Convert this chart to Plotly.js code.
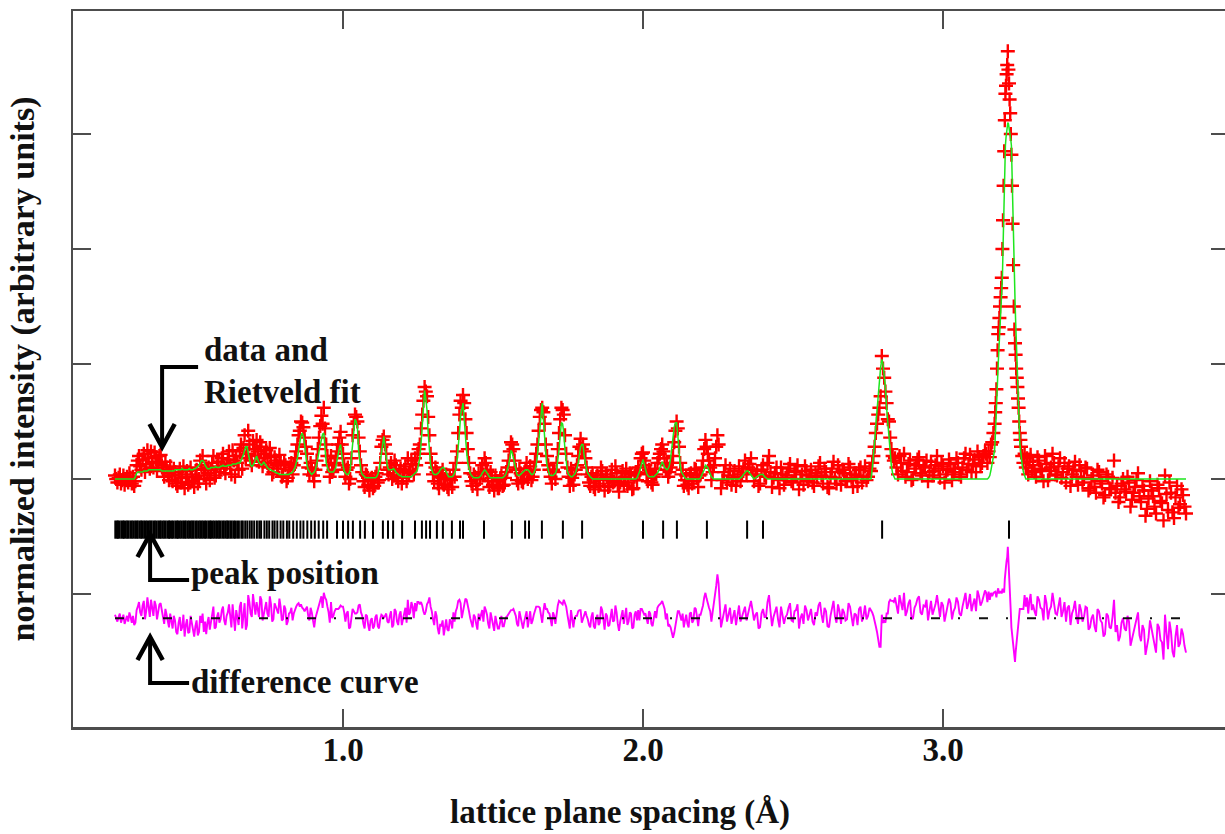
<!DOCTYPE html>
<html>
<head>
<meta charset="utf-8">
<script src="https://cdn.plot.ly/plotly-3.0.1.min.js"></script>
<style>
  html, body { margin: 0; padding: 0; overflow: hidden; background: #ffffff; }
  #chart { width: 1232px; height: 834px; }
</style>
</head>
<body>
<div id="chart"></div>
<script>
// Lattice plane spacing of each measured point (Å)
const dSpacing = [
  0.240,0.244,0.248,0.252,0.256,0.260,0.264,0.268,0.272,0.276,0.280,0.284,0.288,0.292,0.296,0.300,0.304,0.308,0.312,0.316,
  0.320,0.324,0.328,0.332,0.336,0.340,0.344,0.348,0.352,0.356,0.360,0.364,0.368,0.372,0.376,0.380,0.384,0.388,0.392,0.396,
  0.400,0.404,0.408,0.412,0.416,0.420,0.424,0.428,0.432,0.436,0.440,0.444,0.448,0.452,0.456,0.460,0.464,0.468,0.472,0.476,
  0.480,0.484,0.488,0.492,0.496,0.500,0.504,0.508,0.512,0.516,0.520,0.524,0.528,0.532,0.536,0.540,0.544,0.548,0.552,0.556,
  0.560,0.564,0.568,0.572,0.576,0.580,0.584,0.588,0.592,0.596,0.600,0.604,0.608,0.612,0.616,0.620,0.624,0.628,0.632,0.636,
  0.640,0.644,0.648,0.652,0.656,0.660,0.664,0.668,0.672,0.676,0.680,0.684,0.688,0.692,0.696,0.700,0.704,0.708,0.712,0.716,
  0.720,0.724,0.728,0.732,0.736,0.740,0.744,0.748,0.752,0.756,0.760,0.764,0.768,0.772,0.776,0.780,0.784,0.788,0.792,0.796,
  0.800,0.804,0.808,0.812,0.816,0.820,0.824,0.828,0.832,0.836,0.840,0.844,0.848,0.852,0.856,0.860,0.864,0.868,0.872,0.876,
  0.880,0.884,0.888,0.892,0.896,0.900,0.904,0.908,0.912,0.916,0.920,0.924,0.928,0.932,0.936,0.940,0.944,0.948,0.952,0.956,
  0.960,0.964,0.968,0.972,0.976,0.980,0.984,0.988,0.992,0.996,1.000,1.004,1.008,1.012,1.016,1.020,1.024,1.028,1.032,1.036,
  1.040,1.044,1.048,1.052,1.056,1.060,1.064,1.068,1.072,1.076,1.080,1.084,1.088,1.092,1.096,1.100,1.104,1.108,1.112,1.116,
  1.120,1.124,1.128,1.132,1.136,1.140,1.144,1.148,1.152,1.156,1.160,1.164,1.168,1.172,1.176,1.180,1.184,1.188,1.192,1.196,
  1.200,1.204,1.208,1.212,1.216,1.220,1.224,1.228,1.232,1.236,1.240,1.244,1.248,1.252,1.256,1.260,1.264,1.268,1.272,1.276,
  1.280,1.284,1.288,1.292,1.296,1.300,1.304,1.308,1.312,1.316,1.320,1.324,1.328,1.332,1.336,1.340,1.344,1.348,1.352,1.356,
  1.360,1.364,1.368,1.372,1.376,1.380,1.384,1.388,1.392,1.396,1.400,1.404,1.408,1.412,1.416,1.420,1.424,1.428,1.432,1.436,
  1.440,1.444,1.448,1.452,1.456,1.460,1.464,1.468,1.472,1.476,1.480,1.484,1.488,1.492,1.496,1.500,1.504,1.508,1.512,1.516,
  1.520,1.524,1.528,1.532,1.536,1.540,1.544,1.548,1.552,1.556,1.560,1.564,1.568,1.572,1.576,1.580,1.584,1.588,1.592,1.596,
  1.600,1.604,1.608,1.612,1.616,1.620,1.624,1.628,1.632,1.636,1.640,1.644,1.648,1.652,1.656,1.660,1.664,1.668,1.672,1.676,
  1.680,1.684,1.688,1.692,1.696,1.700,1.704,1.708,1.712,1.716,1.720,1.724,1.728,1.732,1.736,1.740,1.744,1.748,1.752,1.756,
  1.760,1.764,1.768,1.772,1.776,1.780,1.784,1.788,1.792,1.796,1.800,1.804,1.808,1.812,1.816,1.820,1.824,1.828,1.832,1.836,
  1.840,1.844,1.848,1.852,1.856,1.860,1.864,1.868,1.872,1.876,1.880,1.884,1.888,1.892,1.896,1.900,1.904,1.908,1.912,1.916,
  1.920,1.924,1.928,1.932,1.936,1.940,1.944,1.948,1.952,1.956,1.960,1.964,1.968,1.972,1.976,1.980,1.984,1.988,1.992,1.996,
  2.000,2.004,2.008,2.012,2.016,2.020,2.024,2.028,2.032,2.036,2.040,2.044,2.048,2.052,2.056,2.060,2.064,2.068,2.072,2.076,
  2.080,2.084,2.088,2.092,2.096,2.100,2.104,2.108,2.112,2.116,2.120,2.124,2.128,2.132,2.136,2.140,2.144,2.148,2.152,2.156,
  2.160,2.164,2.168,2.172,2.176,2.180,2.184,2.188,2.192,2.196,2.200,2.204,2.208,2.212,2.216,2.220,2.224,2.228,2.232,2.236,
  2.240,2.244,2.248,2.252,
  2.260,2.265,2.270,2.275,2.280,2.285,2.290,2.295,2.300,2.305,2.310,2.315,2.320,2.325,2.330,2.335,2.340,2.345,2.350,2.355,
  2.360,2.365,2.370,2.375,2.380,2.385,2.390,2.395,2.400,2.405,2.410,2.415,2.420,2.425,2.430,2.435,2.440,2.445,2.450,2.455,
  2.460,2.465,2.470,2.475,2.480,2.485,2.490,2.495,2.500,2.505,2.510,2.515,2.520,2.525,2.530,2.535,2.540,2.545,2.550,2.555,
  2.560,2.565,2.570,2.575,2.580,2.585,2.590,2.595,2.600,2.605,2.610,2.615,2.620,2.625,2.630,2.635,2.640,2.645,2.650,2.655,
  2.660,2.665,2.670,2.675,2.680,2.685,2.690,2.695,2.700,2.705,2.710,2.715,2.720,2.725,2.730,2.735,2.740,2.745,2.750,2.755,
  2.760,
  2.764,2.768,2.772,2.776,2.780,2.784,2.788,2.792,2.796,2.800,2.804,2.808,2.812,2.816,2.820,2.824,2.828,2.832,2.836,
  2.840,2.845,2.850,2.855,2.860,2.865,2.870,2.875,2.880,2.885,2.890,2.895,2.900,2.905,2.910,2.915,2.920,2.925,2.930,2.935,
  2.940,2.945,2.950,2.955,2.960,2.965,2.970,2.975,2.980,2.985,2.990,2.995,3.000,3.005,3.010,3.015,3.020,3.025,3.030,3.035,
  3.040,3.045,3.050,3.055,3.060,3.065,3.070,3.075,3.080,3.085,3.090,3.095,3.100,3.105,3.110,3.115,3.120,3.125,3.130,3.135,
  3.140,
  3.144,3.148,3.152,3.156,3.160,3.164,3.168,3.172,
  3.174,3.176,3.178,3.180,3.182,3.184,3.186,3.188,3.190,3.192,3.194,3.196,3.198,3.200,3.202,3.204,3.206,3.208,3.210,3.212,3.214,3.216,
  3.218,3.220,3.222,3.224,3.226,3.228,3.230,3.232,3.234,3.236,3.238,3.240,3.242,3.244,3.246,3.248,3.250,3.252,3.254,3.256,3.258,3.260,
  3.264,3.268,3.272,3.276,3.280,3.284,3.288,3.292,3.296,
  3.300,3.305,3.310,3.315,3.320,3.325,3.330,3.335,3.340,3.345,3.350,3.355,3.360,3.365,3.370,3.375,3.380,3.385,3.390,3.395,
  3.400,3.405,3.410,3.415,3.420,3.425,3.430,3.435,3.440,3.445,3.450,3.455,3.460,3.465,3.470,3.475,3.480,3.485,3.490,3.495,
  3.500,3.505,3.510,3.515,3.520,3.525,3.530,3.535,3.540,3.545,3.550,3.555,3.560,3.565,3.570,3.575,3.580,3.585,3.590,3.595,
  3.600,3.605,3.610,3.615,3.620,3.625,3.630,3.635,3.640,3.645,3.650,3.655,3.660,3.665,3.670,3.675,3.680,3.685,3.690,3.695,
  3.700,3.705,3.710,3.715,3.720,3.725,3.730,3.735,3.740,3.745,3.750,3.755,3.760,3.765,3.770,3.775,3.780,3.785,3.790,3.795,
  3.800,3.805,3.810
];

// Observed intensity at each point (background subtracted, arbitrary units)
const obsIntensity = [
  3,0,-3,1,4,-4,-1,3,-5,-1,2,-3,5,1,-4,2,-6,-2,12,16,
  20,11,8,17,22,6,13,25,18,9,24,15,10,23,19,7,14,20,21,12,
  8,2,15,10,5,-1,11,3,-2,9,6,-4,-6,4,9,-3,1,11,-8,2,
  7,-5,-3,10,4,-2,-7,2,8,-4,0,16,12,20,3,9,-4,5,10,-1,
  8,14,20,1,3,11,15,6,10,18,22,9,5,13,17,24,12,4,25,16,
  2,20,14,8,24,30,9,27,38,18,22,42,30,16,12,33,26,20,34,24,
  15,32,28,11,18,22,25,14,10,27,20,4,6,19,16,12,9,21,14,2,
  3,15,12,-2,1,8,10,14,4,12,18,24,30,38,42,50,49,45,36,28,
  22,10,4,14,9,3,-2,8,16,26,36,46,55,48,62,44,30,20,12,2,
  20,6,8,14,18,24,30,36,41,30,22,12,2,8,10,-4,0,18,38,48,
  56,54,50,36,24,12,6,-2,-7,4,3,-5,-10,-1,1,-8,-6,2,5,-3,
  -1,14,28,34,37,30,22,8,4,10,14,0,3,16,12,2,-2,6,9,-4,
  1,8,11,-2,18,5,7,16,13,4,18,12,22,26,30,44,56,68,80,76,
  72,54,38,22,14,4,-2,10,6,-4,-8,3,2,8,-5,0,4,-7,-9,1,
  -1,-7,8,2,14,24,40,56,68,62,73,66,52,40,26,14,5,-2,-6,4,
  2,-4,-9,5,0,6,12,4,18,14,8,-2,-7,6,1,-5,-10,3,-2,-8,
  -8,0,3,-6,-5,1,6,10,16,24,32,30,26,16,8,-1,-4,9,5,-2,
  -3,4,9,14,0,6,11,-1,2,8,15,22,30,42,54,60,62,58,48,30,
  20,12,8,2,-4,8,6,0,14,26,40,52,62,60,56,38,22,10,2,-6,
  9,1,-5,4,8,12,20,28,35,26,30,24,18,10,4,-3,-6,2,5,-7,
  -9,0,3,-6,-4,10,7,-1,-10,4,2,-7,-6,1,8,-3,-2,11,5,-5,
  -11,-3,1,7,-5,2,9,-6,-3,5,4,-9,-8,3,6,-1,10,4,18,22,
  23,16,12,5,-2,8,6,-3,-5,2,9,4,14,18,22,26,30,24,18,8,
  12,2,6,10,14,20,32,42,50,44,28,14,4,8,-6,-1,3,-5,-8,4,
  5,-4,-2,9,8,1,-7,3,4,10,16,26,34,28,22,16,10,-1,6,12,
  18,28,38,30,
  -8,-1,6,12,-3,3,9,-5,1,7,-6,2,11,-2,4,9,16,5,10,13,
  18,8,-2,4,7,-6,-4,8,12,3,2,14,20,6,-7,1,5,10,-1,-8,
  10,4,-5,1,3,9,13,-2,-3,6,7,12,-9,0,4,-5,11,7,-2,3,
  8,-3,-6,5,2,11,14,3,-4,9,6,-7,-8,2,9,15,1,-4,12,6,
  -5,8,5,-2,-1,13,10,1,-7,4,3,-6,8,10,-3,2,11,-1,2,9,
  7,
  14,20,28,40,48,56,62,72,107,96,88,76,66,52,50,36,26,20,16,
  18,10,4,20,14,7,22,2,6,13,16,-1,0,9,12,17,19,5,3,11,
  10,16,-2,6,15,3,7,12,20,9,1,14,11,-3,4,8,17,13,-1,6,
  9,18,14,4,2,10,18,22,8,13,21,6,12,17,6,24,19,11,14,20,
  24,
  22,14,24,19,30,32,40,48,
  58,66,78,96,112,126,132,140,150,158,166,175,200,225,255,285,312,335,342,352,360,372,
  356,344,330,318,300,282,255,222,186,150,130,118,108,96,88,80,70,62,50,40,34,28,
  20,14,22,10,18,4,15,21,7,
  12,6,2,19,16,9,8,-2,20,13,-1,7,10,22,14,4,3,11,18,1,
  6,14,-3,9,11,-6,4,8,15,2,-5,12,7,-3,1,10,9,-10,-8,0,
  3,-7,-12,8,6,-2,-4,-16,-14,4,2,-8,-9,1,16,-12,-6,-20,-16,-4,
  0,-9,-11,2,-3,-24,-18,-12,-7,-1,5,-15,-20,-6,-10,-32,-26,-17,-2,-10,
  -15,-24,-30,-5,-8,-19,-21,-36,3,-13,-27,-3,-12,-29,-34,-16,-6,-25,-22,-9,
  -14,-24,-30
];

// Rietveld-calculated intensity at the same points
const calcIntensity = [
  0,0,0,0,0,0,0,0,0,0,0,0,0,0,0,0,0,2,5,6,
  6,6,6,6,7,7,7,7,8,8,8,8,8,8,8,8,8,8,8,7,
  7,7,7,7,7,7,7,7,7,7,8,8,8,8,8,8,9,8,8,8,
  8,8,9,8,8,8,9,9,10,11,12,14,16,16,15,12,10,9,9,9,
  10,10,10,10,11,10,10,10,11,11,12,11,11,11,12,12,12,12,13,13,
  13,13,14,14,14,16,18,21,25,28,28,22,16,12,11,12,14,17,20,17,
  14,13,12,13,15,13,11,10,9,8,8,7,7,6,6,5,5,4,4,4,
  4,4,4,4,4,4,5,5,6,8,10,14,18,25,32,38,40,37,30,20,
  12,8,6,5,4,5,6,8,12,18,24,30,36,39,40,26,14,10,7,6,
  6,6,6,8,10,16,22,27,30,20,12,7,5,4,4,5,8,18,30,42,
  52,50,45,25,12,7,4,3,2,1,1,1,1,1,1,1,1,1,2,4,
  8,15,25,32,37,28,18,11,8,8,8,8,9,8,6,5,4,3,3,2,
  2,2,2,2,2,2,2,2,3,4,5,6,8,12,18,30,45,62,77,70,
  60,40,20,12,8,5,4,4,4,5,6,8,9,10,10,8,5,3,2,2,
  2,2,3,5,8,15,25,40,55,62,66,52,35,24,14,8,5,3,2,1,
  1,1,1,1,2,3,5,7,8,7,5,3,2,1,1,1,1,1,1,1,
  1,1,1,1,2,3,5,8,12,18,25,23,18,11,6,4,3,3,4,5,
  6,7,8,8,8,7,5,4,4,5,8,12,20,32,45,58,66,52,35,22,
  12,7,4,3,3,3,4,5,8,15,25,38,49,48,40,25,12,7,4,3,
  2,2,3,4,6,10,14,21,28,30,30,20,12,8,5,3,2,1,0,0,
  0,0,0,0,0,0,0,0,0,0,0,0,0,0,0,0,0,0,0,0,
  0,0,0,0,0,0,0,0,0,0,0,0,0,0,0,1,3,6,10,14,
  17,13,8,5,3,2,2,2,2,2,3,4,5,7,10,13,15,13,10,9,
  8,9,12,18,28,37,45,49,49,38,22,12,6,4,2,1,0,0,0,0,
  0,0,0,0,0,0,0,0,1,3,5,8,12,11,10,7,4,2,1,0,
  0,0,0,0,
  0,0,0,0,0,0,0,0,0,0,0,0,0,1,2,4,6,7,7,5,
  3,1,0,1,2,3,4,4,4,2,1,0,0,0,0,0,0,0,0,0,
  0,0,0,0,0,0,0,0,0,0,0,0,0,0,0,0,0,0,0,0,
  0,0,0,0,0,0,0,0,0,0,0,0,0,0,0,0,0,0,0,0,
  0,0,0,0,0,0,0,0,0,0,0,0,0,0,0,0,0,0,0,0,
  0,
  9,18,32,47,60,75,87,97,104,100,90,80,62,48,36,20,11,5,2,
  0,0,0,0,0,0,0,0,0,0,0,0,0,0,0,0,0,0,0,0,
  0,0,0,0,0,0,0,0,0,0,0,0,0,0,0,0,0,0,0,0,
  0,0,0,0,0,0,0,0,0,0,0,0,0,0,0,0,0,0,0,0,
  0,
  0,0,1,3,8,13,18,25,
  35,45,60,74,87,100,110,118,127,135,144,153,175,200,232,262,278,290,297,302,307,310,
  309,306,302,298,295,290,268,240,208,175,165,156,138,120,105,90,75,60,46,32,26,20,
  12,6,2,0,0,0,0,0,0,
  0,0,0,0,0,0,0,0,0,0,0,0,0,0,0,0,0,0,0,0,
  0,0,0,0,0,0,0,0,0,0,0,0,0,0,0,0,0,0,0,0,
  0,0,0,0,0,0,0,0,0,0,0,0,0,0,0,0,0,0,0,0,
  0,0,0,0,0,0,0,0,0,0,0,0,0,0,0,0,0,0,0,0,
  0,0,0,0,0,0,0,0,0,0,0,0,0,0,0,0,0,0,0,0,
  0,0,0
];

// Allowed reflection positions (Å)
const reflectionD = [
  0.241,0.246,0.250,0.255,0.261,0.266,0.270,0.276,0.281,0.285,
  0.291,0.296,0.301,0.307,0.312,0.316,0.322,0.327,0.331,0.337,
  0.342,0.347,0.353,0.358,0.362,0.368,0.373,0.378,0.384,0.389,
  0.393,0.399,0.404,0.409,0.415,0.420,0.424,0.430,0.435,0.441,
  0.446,0.450,0.456,0.461,0.467,0.472,0.476,0.482,0.487,0.493,
  0.498,0.502,0.508,0.513,0.519,0.524,0.529,0.534,0.540,0.545,
  0.551,0.556,0.560,0.566,0.571,0.577,0.582,0.587,0.592,0.598,
  0.603,0.609,0.614,0.618,0.624,0.629,0.635,0.640,
  0.647,0.653,0.661,0.666,0.674,0.681,0.689,0.696,0.704,0.713,
  0.721,0.727,0.738,0.746,0.754,0.765,0.772,0.781,0.792,0.801,
  0.813,0.821,0.834,0.846,0.858,0.868,0.881,0.894,0.906,0.919,
  0.934,
  0.947,0.980,1.000,1.017,1.033,1.057,1.073,1.100,1.133,1.150,
  1.167,1.197,1.240,1.263,1.277,1.290,1.313,1.333,1.363,1.390,
  1.400,1.470,1.563,1.607,1.620,1.663,1.733,1.797,2.000,2.067,
  2.113,2.213,2.347,2.400,2.797,3.220
];

const xTickVals = [1, 2, 3];
const xTickText = ['1.0', '2.0', '3.0'];
const yTickVals = [-100, 0, 100, 200, 300];

// Vertical offsets of the lower panels (intensity units)
const TICK_ROW = -44;
const DIFF_BASE = -121;

const FONT = 'Liberation Serif, "Times New Roman", Times, serif';
const FRAME = '#4d4d4d';
const TEXT_SIZE = 33;

if (dSpacing.length !== obsIntensity.length || dSpacing.length !== calcIntensity.length) {
  console.error('length mismatch', dSpacing.length, obsIntensity.length, calcIntensity.length);
}

const diffCurve = obsIntensity.map((v, i) => v - calcIntensity[i] + DIFF_BASE);
const lastD = dSpacing[dSpacing.length - 1];

const traces = [
  {
    x: dSpacing, y: obsIntensity, type: 'scatter', mode: 'markers',
    marker: { symbol: 'cross-thin', size: 10, color: '#ff0000', line: { color: '#ff0000', width: 2.4 } },
    hoverinfo: 'skip'
  },
  {
    x: dSpacing, y: calcIntensity, type: 'scatter', mode: 'lines',
    line: { color: '#1ee61e', width: 1.5 }, hoverinfo: 'skip'
  },
  {
    x: reflectionD, y: reflectionD.map(() => TICK_ROW), type: 'scatter', mode: 'markers',
    marker: { symbol: 'line-ns', size: 13, color: '#000000', line: { color: '#000000', width: 2 } },
    hoverinfo: 'skip'
  },
  {
    x: dSpacing, y: diffCurve, type: 'scatter', mode: 'lines',
    line: { color: '#ff00ff', width: 1.9 }, hoverinfo: 'skip'
  },
  {
    x: [dSpacing[0], lastD], y: [DIFF_BASE, DIFF_BASE], type: 'scatter', mode: 'lines',
    line: { color: '#111111', width: 2, dash: '9px,18px,2px,19px' }, hoverinfo: 'skip'
  }
];

// L-shaped pointer arrows: arm end at the label, corner, and tip
const pointers = [
  { armX: 0.517, stemX: 0.397, armY: 97.4, tipY: 27.8 },
  { armX: 0.487, stemX: 0.357, armY: -87.8, tipY: -47.8 },
  { armX: 0.487, stemX: 0.357, armY: -177.4, tipY: -137.4 }
];
const HEAD_W = 0.042;   // half width of arrow head (Å)
const HEAD_H = 20;      // arrow head length (intensity units)

const shapes = [];
pointers.forEach(p => {
  const dir = p.tipY < p.armY ? 1 : -1;
  shapes.push({
    type: 'path', xref: 'x', yref: 'y',
    path: `M${p.armX},${p.armY} L${p.stemX},${p.armY} L${p.stemX},${p.tipY}`,
    line: { color: '#000000', width: 4 }
  });
  shapes.push({
    type: 'path', xref: 'x', yref: 'y',
    path: `M${p.stemX - HEAD_W},${p.tipY + dir * HEAD_H} L${p.stemX},${p.tipY} L${p.stemX + HEAD_W},${p.tipY + dir * HEAD_H}`,
    line: { color: '#000000', width: 4.5 }
  });
});

const labelFont = { family: FONT, size: TEXT_SIZE, color: '#111111', weight: 'bold' };
const label = (text, x, y) => ({
  text, x, y, xref: 'x', yref: 'y', xanchor: 'left', yanchor: 'middle',
  showarrow: false, borderpad: 0, font: labelFont
});

const annotations = [
  label('data and', 0.533, 112),
  label('Rietveld fit', 0.533, 76),
  label('peak position', 0.49, -82),
  label('difference curve', 0.49, -176.5),
  {
    text: 'lattice plane spacing (Å)', xref: 'paper', yref: 'paper',
    x: 0.473, y: -0.119, xanchor: 'center', yanchor: 'middle',
    showarrow: false, font: labelFont
  }
];

const axisCommon = {
  showgrid: false, zeroline: false, showline: true, linecolor: FRAME, linewidth: 2.5,
  mirror: 'ticks', ticks: 'inside', ticklen: 18, tickwidth: 2, tickcolor: FRAME
};

const layout = {
  width: 1232, height: 834,
  margin: { l: 73, r: 3, t: 11, b: 107 },
  paper_bgcolor: '#ffffff', plot_bgcolor: '#ffffff',
  showlegend: false,
  xaxis: Object.assign({}, axisCommon, {
    range: [0.1, 3.9533],
    tickmode: 'array', tickvals: xTickVals, ticktext: xTickText,
    tickfont: { family: FONT, size: TEXT_SIZE, color: '#111111', weight: 'bold' },
    ticklabelstandoff: -8
  }),
  yaxis: Object.assign({}, axisCommon, {
    range: [-215.65, 406.96],
    tickmode: 'array', tickvals: yTickVals, showticklabels: false,
    title: { text: 'normalized intensity (arbitrary units)', standoff: 26,
             font: { family: FONT, size: 34, color: '#111111', weight: 'bold' } }
  }),
  shapes, annotations
};

Plotly.newPlot('chart', traces, layout, { staticPlot: true, displayModeBar: false });
</script>
</body>
</html>
